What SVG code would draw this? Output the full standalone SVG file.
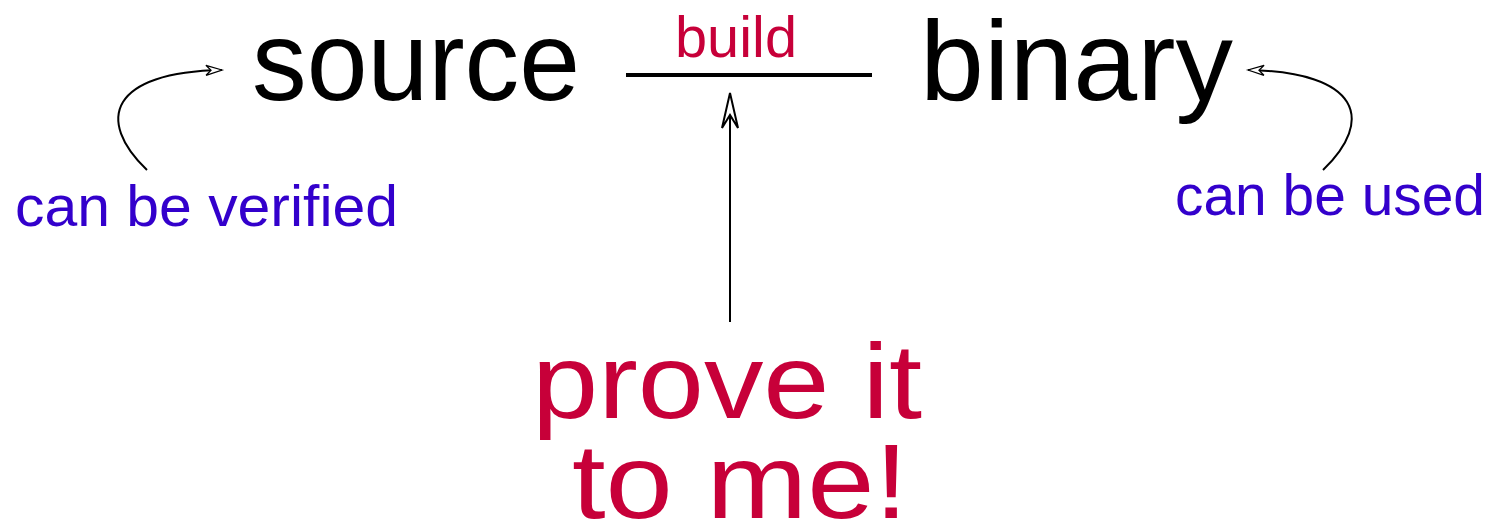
<svg xmlns="http://www.w3.org/2000/svg" width="1494" height="523" viewBox="0 0 1494 523">
<style>
text { font-family: "Liberation Sans", Arial, sans-serif; }
.big { font-size: 114px; fill: #000; }
.red { fill: #c70039; }
.blue { fill: #3300cc; font-size: 57px; }
.conn { fill: none; stroke: #000; stroke-width: 2; }
</style>
<defs>
<marker id="headS" markerUnits="userSpaceOnUse" markerWidth="20" markerHeight="14" refX="17" refY="7" orient="auto" viewBox="0 0 20 14">
<path d="M17,7 L1,2 L6,7 L1,12 Z" fill="#fff" stroke="#000" stroke-width="1.3" stroke-linejoin="miter"/>
</marker>
<marker id="headL" markerUnits="userSpaceOnUse" markerWidth="40" markerHeight="22" refX="37" refY="11" orient="auto" viewBox="0 0 40 22">
<path d="M37,11 L2,3 L15,11 L2,19 Z" fill="#fff" stroke="#000" stroke-width="2" stroke-linejoin="miter"/>
</marker>
</defs>
<g id="source"><text class="big" x="252" y="100" textLength="328" lengthAdjust="spacingAndGlyphs">source</text></g>
<g id="binary"><text class="big" x="920" y="100" textLength="313" lengthAdjust="spacingAndGlyphs">binary</text></g>
<g id="build"><text class="red" x="675" y="57" font-size="58" textLength="122" lengthAdjust="spacingAndGlyphs">build</text></g>
<g id="verified"><text class="blue" x="15" y="226" textLength="383" lengthAdjust="spacingAndGlyphs">can be verified</text></g>
<g id="used"><text class="blue" x="1175" y="215" textLength="310" lengthAdjust="spacingAndGlyphs">can be used</text></g>
<g id="prove">
<text class="red" x="532" y="418" font-size="106" textLength="390" lengthAdjust="spacingAndGlyphs">prove it</text>
<text class="red" x="572" y="518" font-size="106" textLength="336" lengthAdjust="spacingAndGlyphs">to me!</text>
</g>
<g id="connectors">
<line x1="626" y1="75" x2="872" y2="75" stroke="#000" stroke-width="4"/>
<path class="conn" d="M730,322 L730,93" marker-end="url(#headL)"/>
<path class="conn" d="M147,170 C95,120 110,72 222,70" marker-end="url(#headS)"/>
<path class="conn" d="M1323,170 C1375,120 1360,72 1248,70" marker-end="url(#headS)"/>
</g>
</svg>
